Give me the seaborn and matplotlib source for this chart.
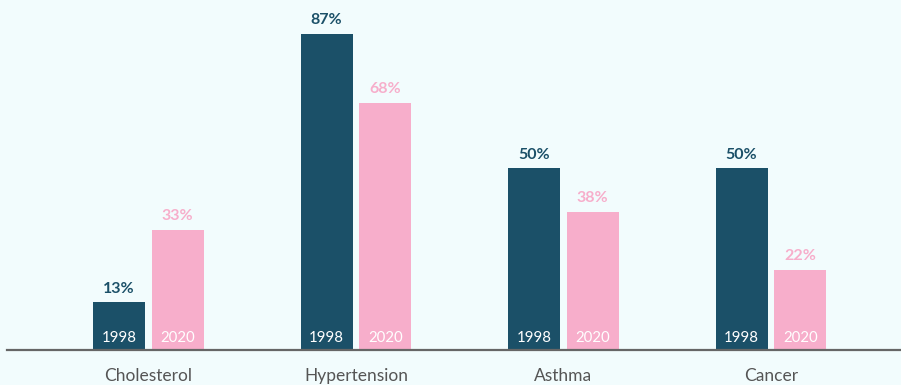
import matplotlib
matplotlib.use("Agg")
import matplotlib.pyplot as plt
import seaborn as sns
import pandas as pd

categories = ["Cholesterol", "Hypertension", "Asthma", "Cancer"]
years = ["1998", "2020"]
values_1998 = [13, 87, 50, 50]
values_2020 = [33, 68, 38, 22]

bg = "#f2fcfd"
dark = "#1b5068"
pink = "#f7aecb"

df = pd.DataFrame({
    "condition": categories * 2,
    "year": [years[0]] * len(categories) + [years[1]] * len(categories),
    "pct": values_1998 + values_2020,
})

sns.set_theme(style="white")
plt.rcParams["font.family"] = ["Lato", "DejaVu Sans"]

fig = plt.figure(figsize=(9.01, 3.85), dpi=100, facecolor=bg)
ax = fig.add_axes([0.0, 0.092, 1.0, 0.908])
ax.set_facecolor(bg)

sns.barplot(data=df, x="condition", y="pct", hue="year", order=categories,
            hue_order=years, palette=[dark, pink], width=0.565, gap=0.115,
            saturation=1, legend=False, linewidth=0, ax=ax)

ax.set_xlim(-0.7157, 3.627)
ax.set_ylim(0, 96.5)

label_colors = {years[0]: dark, years[1]: pink}
for container, yr in zip(ax.containers, years):
    for bar in container:
        cx = bar.get_x() + bar.get_width() / 2
        h = bar.get_height()
        ax.annotate(f"{h:.0f}%", (cx, h), xytext=(0, 5), textcoords="offset points",
                    ha="center", va="bottom", fontsize=11.5, fontweight="bold",
                    color=label_colors[yr])
        ax.annotate(yr, (cx, 0), xytext=(0, 3), textcoords="offset points",
                    ha="center", va="bottom", fontsize=10.8, color="white")

for side in ["left", "right", "top"]:
    ax.spines[side].set_visible(False)
ax.spines["bottom"].set_color("#666666")
ax.spines["bottom"].set_linewidth(1.6)
ax.spines["bottom"].set_bounds(-0.682, 3.627)

ax.set_yticks([])
ax.set_xlabel("")
ax.set_ylabel("")
ax.tick_params(axis="x", length=0, pad=13, labelsize=12.5, labelcolor="#555555")

fig.savefig("out.png", dpi=100, facecolor=bg)
